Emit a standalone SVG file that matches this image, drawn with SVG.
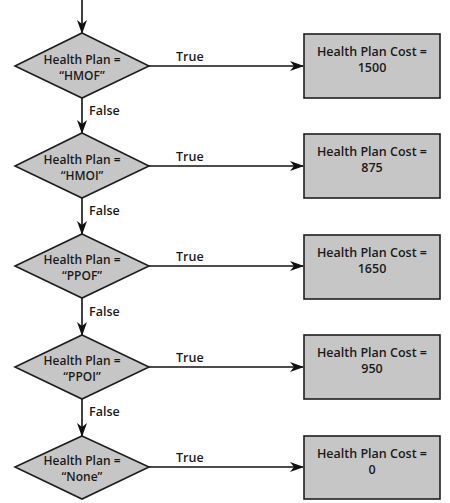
<svg xmlns="http://www.w3.org/2000/svg" width="450" height="503" viewBox="0 0 450 503">
<style>
.shape{fill:#c6c6c6;stroke:#1e1e1e;stroke-width:1.6}
.t{font-family:"Open Sans","Liberation Sans",sans-serif;font-size:12.5px;fill:#1a1a1a;text-anchor:middle;font-weight:600}
.d{font-size:12px}
.lbl{font-family:"Open Sans","Liberation Sans",sans-serif;font-size:12.5px;font-weight:600;fill:#1a1a1a}
.c{stroke:#111;stroke-width:1.6;fill:none;marker-end:url(#ah)}
</style>
<defs>
<marker id="ah" markerWidth="14" markerHeight="10" refX="13" refY="5" orient="auto" markerUnits="userSpaceOnUse">
<path d="M0,0 L14,5 L0,10 L4,5 Z" fill="#111"/>
</marker>
</defs>
<rect width="450" height="503" fill="#fff"/>
<g id="connectors">
<line class="c" x1="82" y1="0" x2="82" y2="33"/>
<line class="c" x1="149" y1="66" x2="303" y2="66"/>
<line class="c" x1="82" y1="98" x2="82" y2="133"/>
<line class="c" x1="149" y1="166" x2="303" y2="166"/>
<line class="c" x1="82" y1="198" x2="82" y2="234"/>
<line class="c" x1="149" y1="266" x2="303" y2="266"/>
<line class="c" x1="82" y1="298" x2="82" y2="335"/>
<line class="c" x1="149" y1="367" x2="303" y2="367"/>
<line class="c" x1="82" y1="399" x2="82" y2="436"/>
<line class="c" x1="149" y1="467" x2="303" y2="467"/>
<text class="lbl" x="176" y="61">True</text>
<text class="lbl" x="176" y="161">True</text>
<text class="lbl" x="176" y="261">True</text>
<text class="lbl" x="176" y="362">True</text>
<text class="lbl" x="176" y="462">True</text>
<text class="lbl" x="89" y="115">False</text>
<text class="lbl" x="89" y="215">False</text>
<text class="lbl" x="89" y="316">False</text>
<text class="lbl" x="89" y="416">False</text>
</g>
<g id="d1"><polygon class="shape" points="82,33 149,66 82,98 15,66"/><text class="t d" x="82" y="64">Health Plan =</text><text class="t d" x="82" y="80">“HMOF”</text></g>
<g id="d2"><polygon class="shape" points="82,133 149,166 82,198 15,166"/><text class="t d" x="82" y="164">Health Plan =</text><text class="t d" x="82" y="180">“HMOI”</text></g>
<g id="d3"><polygon class="shape" points="82,234 149,266 82,298 15,266"/><text class="t d" x="82" y="264">Health Plan =</text><text class="t d" x="82" y="280">“PPOF”</text></g>
<g id="d4"><polygon class="shape" points="82,335 149,367 82,399 15,367"/><text class="t d" x="82" y="365">Health Plan =</text><text class="t d" x="82" y="381">“PPOI”</text></g>
<g id="d5"><polygon class="shape" points="82,436 149,467 82,499 15,467"/><text class="t d" x="82" y="465">Health Plan =</text><text class="t d" x="82" y="481">“None”</text></g>
<g id="b1"><rect class="shape" x="304" y="34" width="136" height="64"/><text class="t" x="372" y="56">Health Plan Cost =</text><text class="t" x="372" y="72">1500</text></g>
<g id="b2"><rect class="shape" x="304" y="134" width="136" height="64"/><text class="t" x="372" y="156">Health Plan Cost =</text><text class="t" x="372" y="172">875</text></g>
<g id="b3"><rect class="shape" x="304" y="235" width="136" height="64"/><text class="t" x="372" y="257">Health Plan Cost =</text><text class="t" x="372" y="273">1650</text></g>
<g id="b4"><rect class="shape" x="304" y="335" width="136" height="64"/><text class="t" x="372" y="357">Health Plan Cost =</text><text class="t" x="372" y="373">950</text></g>
<g id="b5"><rect class="shape" x="304" y="436" width="136" height="63"/><text class="t" x="372" y="458">Health Plan Cost =</text><text class="t" x="372" y="474">0</text></g>
</svg>
